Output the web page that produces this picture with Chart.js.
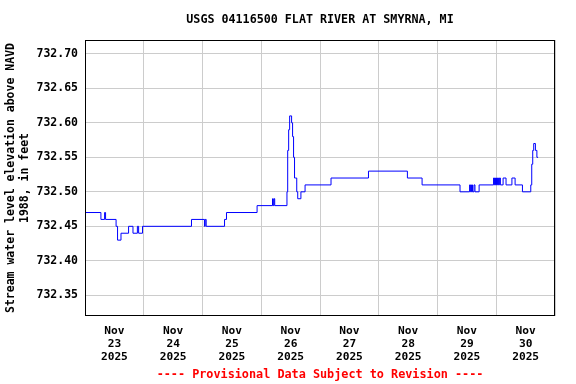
<!DOCTYPE html>
<html>
<head>
<meta charset="utf-8">
<script src="https://cdn.jsdelivr.net/npm/chart.js@4"></script>
<style>
  body { margin: 0; background: #fff; }
  #wrap { width: 576px; height: 384px; }
</style>
</head>
<body>
<div id="wrap"><canvas id="gageChart" width="576" height="384"></canvas></div>
<script>
// hours since Nov 23 00:00, and gage height (ft above NAVD 1988) from that hour on
const hours = [0, 6.5, 8.0, 8.4, 12.7, 13.3, 14.7, 17.8, 19.6, 21.4, 21.9, 23.5,
  43.5, 48.8, 49.1, 49.5, 57.0, 57.8, 70.3, 76.6, 76.9, 77.2, 77.5,
  82.5, 82.8, 83.2, 83.6, 84.4, 84.8, 85.2, 85.6, 86.1, 86.5, 86.9, 88.2, 89.9,
  100.5, 115.8, 131.7, 137.7, 153.2,
  157.1, 157.5, 157.9, 158.3, 158.9, 159.3, 161.0,
  166.9, 167.3, 167.7, 168.1, 168.5, 168.9, 169.3, 169.7, 170.8, 172.0, 174.4, 175.7,
  178.7, 182.1, 182.5, 182.9, 183.3, 184.0, 184.6, 185.1];
const levels = [732.47, 732.46, 732.47, 732.46, 732.45, 732.43, 732.44, 732.45, 732.44, 732.45, 732.44, 732.45,
  732.46, 732.45, 732.46, 732.45, 732.46, 732.47, 732.48, 732.49, 732.48, 732.49, 732.48,
  732.50, 732.56, 732.59, 732.61, 732.60, 732.58, 732.55, 732.52, 732.52, 732.50, 732.49, 732.50, 732.51,
  732.52, 732.53, 732.52, 732.51, 732.50,
  732.51, 732.50, 732.51, 732.50, 732.51, 732.50, 732.51,
  732.52, 732.51, 732.52, 732.51, 732.52, 732.51, 732.52, 732.51, 732.52, 732.51, 732.52, 732.51,
  732.50, 732.51, 732.54, 732.56, 732.57, 732.56, 732.55, 732.55];

const days = ['23', '24', '25', '26', '27', '28', '29', '30'];
const month = 'Nov';
const year = '2025';
const yTicks = [732.35, 732.40, 732.45, 732.50, 732.55, 732.60, 732.65, 732.70];

const mono = 'DejaVu Sans Mono';

const frame = {
  id: 'frame',
  afterDraw(chart) {
    const a = chart.chartArea;
    const ctx = chart.ctx;
    ctx.save();
    ctx.strokeStyle = '#000';
    ctx.lineWidth = 1;
    ctx.strokeRect(Math.round(a.left) + 0.5, Math.round(a.top) + 0.5,
      Math.round(a.right - a.left) - 1, Math.round(a.bottom - a.top) - 1);
    ctx.restore();
  }
};

new Chart(document.getElementById('gageChart'), {
  type: 'line',
  data: {
    datasets: [{
      data: hours.map((h, i) => ({ x: h, y: levels[i] })),
      borderColor: '#0000ff',
      borderWidth: 1,
      pointRadius: 0,
      stepped: true,
      fill: false
    }]
  },
  options: {
    responsive: false,
    animation: false,
    layout: { padding: { left: 0, right: 21, top: 0, bottom: 0 } },
    plugins: {
      legend: { display: false },
      tooltip: { enabled: false },
      title: {
        display: true,
        fullSize: false,
        text: 'USGS 04116500 FLAT RIVER AT SMYRNA, MI',
        color: '#000',
        font: { family: mono, size: 11.7, weight: 'bold', lineHeight: 1.2 },
        padding: { top: 13, bottom: 12.96 }
      },
      subtitle: {
        display: true,
        fullSize: false,
        position: 'bottom',
        text: '---- Provisional Data Subject to Revision ----',
        color: '#ff0000',
        font: { family: mono, size: 11.8, weight: 'bold', lineHeight: 1.2 },
        padding: { top: 4, bottom: 1.8 }
      }
    },
    scales: {
      x: {
        type: 'linear',
        min: 0,
        max: 192,
        afterBuildTicks: s => { s.ticks = days.map((d, i) => ({ value: 12 + 24 * i })); },
        afterFit: s => { s.height = 48; },
        grid: { color: '#cccccc', offset: true, drawTicks: false },
        border: { display: false },
        ticks: {
          autoSkip: false,
          maxRotation: 0,
          padding: 9,
          color: '#000',
          font: { family: mono, size: 11.2, weight: 'bold', lineHeight: 1.16 },
          callback: v => [month, days[Math.round((v - 12) / 24)], year]
        }
      },
      y: {
        min: 732.32,
        max: 732.72,
        afterBuildTicks: s => { s.ticks = yTicks.map(v => ({ value: v })); },
        afterFit: s => { s.width = 85; },
        grid: { color: '#cccccc', drawTicks: false },
        border: { display: false },
        ticks: {
          padding: 7,
          color: '#000',
          font: { family: mono, size: 11.5, weight: 'bold' },
          callback: v => v.toFixed(2)
        },
        title: {
          display: true,
          text: ['Stream water level elevation above NAVD', '1988, in feet'],
          color: '#000',
          font: { family: mono, size: 11.5, weight: 'bold', lineHeight: 1.2 },
          padding: { top: 4, bottom: 0 }
        }
      }
    }
  },
  plugins: [frame]
});
</script>
</body>
</html>
